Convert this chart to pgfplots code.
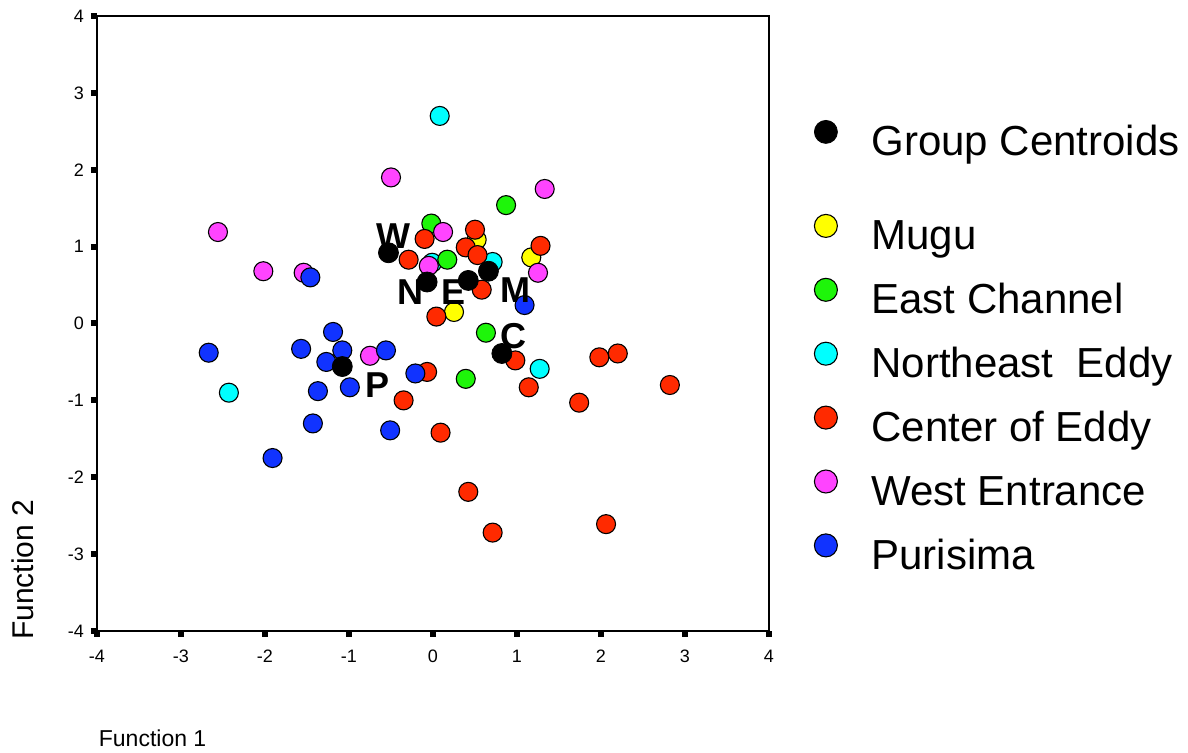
\documentclass[border=0pt]{standalone}
\usepackage{fontspec}
\setmainfont{Liberation Sans}
\usepackage{pgfplots}
\pgfplotsset{compat=1.18}
\definecolor{cyel}{RGB}{255,255,0}
\definecolor{cgrn}{RGB}{30,245,10}
\definecolor{ccya}{RGB}{0,255,255}
\definecolor{cred}{RGB}{255,42,0}
\definecolor{cmag}{RGB}{255,68,255}
\definecolor{cblu}{RGB}{17,51,255}
\pgfplotsset{pt/.style={only marks, mark=*, mark size=4.75pt, forget plot,
   mark options={fill=#1, draw=black, line width=0.55pt}},
   lg/.style={only marks, mark=*, mark size=5.75pt, mark options={fill=#1, draw=black, line width=0.55pt}},
   mylegend/.style={legend style={at={(axis description cs:1,1)}, anchor=north west, xshift=22.5pt, yshift=#1,
    draw=none, fill=none, inner sep=0pt, font=\fontsize{21}{25}\selectfont,
    row sep=10.7pt, column sep=15pt, cells={anchor=base west}},
    legend image code/.code={\draw[##1] plot coordinates {(8.5pt,12pt)};}},
   base/.style={at={(0pt,0pt)}, anchor=south west,
    scale only axis, width=336pt, height=307.5pt,
    xmin=-4, xmax=4, ymin=-4, ymax=4}}
\begin{document}
\begin{tikzpicture}
\path[use as bounding box] (-48.5pt,-61pt) rectangle (545.5pt,315.5pt);
\begin{axis}[
  base,
  xtick={-4,...,4}, ytick={-4,...,4},
  tick pos=left, tick align=outside,
  major tick length=3pt,
  every tick/.style={black, line width=3pt},
  axis line style={line width=0.8pt},
  /pgf/number format/assume math mode=true,
  ticklabel style={font=\fontsize{9}{11}\selectfont},
  xticklabel style={yshift=-3pt},
  yticklabel style={xshift=0pt},
  xlabel={Function 1},
  xlabel style={at={(axis description cs:-0.0077,-0.1886)}, anchor=base west, font=\fontsize{11.5}{13}\selectfont},
  ylabel={Function 2},
  ylabel style={at={(axis description cs:-0.0952,-0.026)}, anchor=base west, font=\fontsize{15}{18}\selectfont},
  mylegend=-99pt,
]
% Mugu
\addplot[pt=cyel] coordinates {(0.52,1.09) (1.17,0.86) (0.25,0.15)};
% Northeast Eddy
\addplot[pt=ccya] coordinates {(0.08,2.70) (-2.43,-0.90) (0.71,0.80) (1.27,-0.59) (-0.01,0.79)};
% East Channel
\addplot[pt=cgrn] coordinates {(-0.02,1.30) (0.87,1.54) (0.17,0.83) (0.63,-0.12) (0.39,-0.72)};
% Center of Eddy
\addplot[pt=cred] coordinates {(-0.10,1.10) (-0.29,0.83) (0.50,1.22) (0.39,0.99) (0.53,0.89)
  (1.28,1.01) (0.58,0.44) (0.04,0.09) (-0.07,-0.63) (-0.35,-1.00) (0.09,-1.42) (0.98,-0.48)
  (1.14,-0.83) (1.98,-0.44) (2.20,-0.39) (2.82,-0.80) (1.74,-1.03) (0.42,-2.19) (0.71,-2.72) (2.06,-2.61)};
% West Entrance
\addplot[pt=cmag] coordinates {(-0.50,1.90) (-2.56,1.19) (-2.02,0.68) (-1.54,0.66) (1.33,1.75)
  (0.12,1.19) (-0.05,0.75) (1.25,0.66) (-0.75,-0.42)};
% Purisima
\addplot[pt=cblu] coordinates {(-1.46,0.60) (1.09,0.24) (-2.67,-0.38) (-1.57,-0.33) (-1.19,-0.11)
  (-1.08,-0.35) (-1.27,-0.50) (-0.56,-0.35) (-0.21,-0.65) (-1.37,-0.88) (-0.99,-0.83)
  (-1.43,-1.30) (-0.51,-1.39) (-1.91,-1.75)};
% Group centroids
\addplot[only marks, mark=*, mark size=5pt, forget plot, mark options={fill=black, draw=black}]
  coordinates {(-0.53,0.92) (-0.07,0.54) (0.42,0.56) (0.66,0.68) (0.82,-0.39) (-1.08,-0.56)};
% centroid letters
\addplot[draw=none, mark=none, forget plot, nodes near coords, point meta=explicit symbolic,
  nodes near coords style={anchor=center, inner sep=0pt, font=\fontsize{18}{20}\selectfont\bfseries}]
  table[meta=lab] {
x y lab
-0.47 1.14 W
-0.27 0.41 N
0.24 0.41 E
0.98 0.44 M
0.96 -0.17 C
-0.66 -0.80 P
};
\addlegendimage{lg=cyel}
\addlegendentry{Mugu}
\addlegendimage{lg=cgrn}
\addlegendentry{East Channel}
\addlegendimage{lg=ccya}
\addlegendentry{Northeast\ \ Eddy}
\addlegendimage{lg=cred}
\addlegendentry{Center of Eddy}
\addlegendimage{lg=cmag}
\addlegendentry{West Entrance}
\addlegendimage{lg=cblu}
\addlegendentry{Purisima}
\end{axis}
\begin{axis}[base, hide axis, mylegend=-52pt]
\addlegendimage{only marks, mark=*, mark size=5.75pt, mark options={fill=black, draw=black}}
\addlegendentry{Group Centroids}
\end{axis}
\end{tikzpicture}
\end{document}
